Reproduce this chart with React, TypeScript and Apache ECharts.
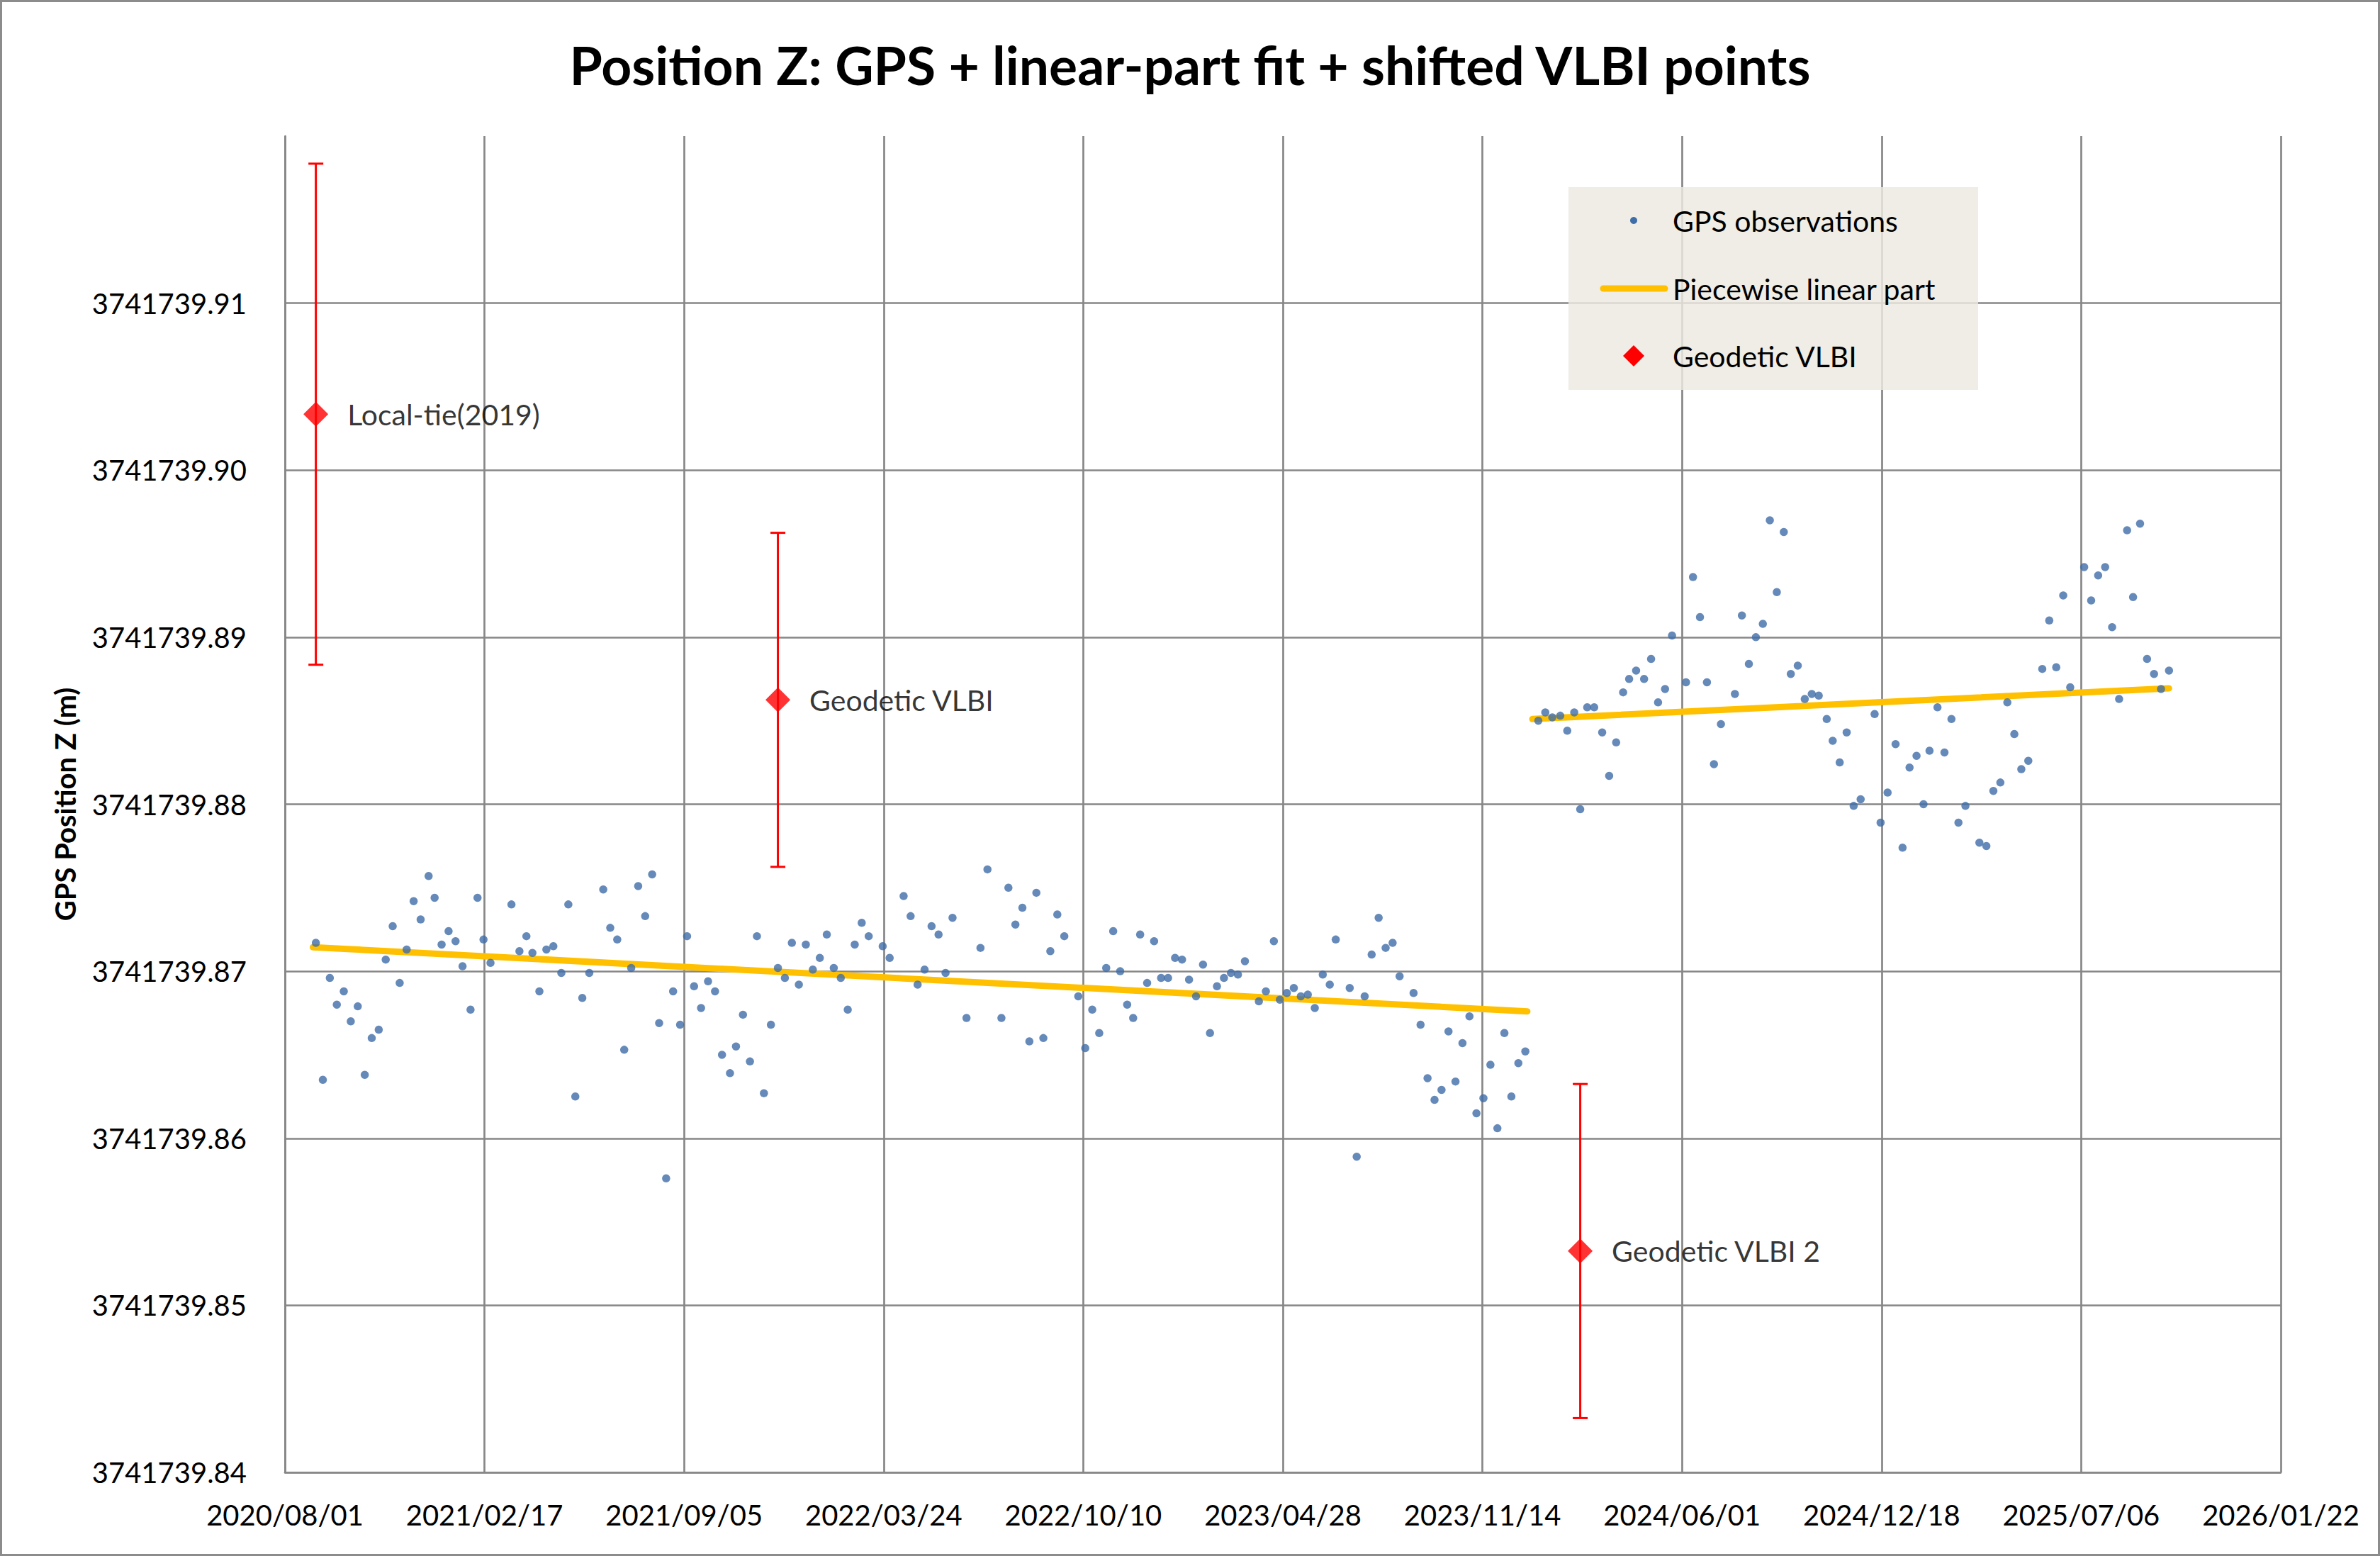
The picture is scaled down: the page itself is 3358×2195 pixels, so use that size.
import React, { useEffect, useRef } from "react";
import * as echarts from "echarts";

const TITLE = "Position Z: GPS + linear-part fit + shifted VLBI points";
const Y_NAME = "GPS Position Z (m)";
const BASE = 3741739.84; // axis minimum (m)
const START_UTC = Date.UTC(2020, 7, 1); // day 0 = 2020/08/01
const X_MAX_DAYS = 2000;
const X_STEP_DAYS = 200;
const Y_STEP_M = 0.01;
const Y_MAX_M = 3741739.92;

// GPS observations: days since 2020/08/01, Z position (m)
const gpsDays = [
  31, 38, 45, 52, 59, 66, 73, 80, 87, 94, 101, 108, 115, 122, 129, 136, 144, 150, 157, 164,
  171, 178, 186, 193, 199, 206, 227, 235, 242, 248, 255, 262, 269, 277, 284, 291, 298, 305, 319, 326,
  333, 340, 347, 354, 361, 368, 375, 382, 389, 396, 403, 410, 417, 424, 431, 438, 446, 452, 459, 466,
  473, 480, 487, 494, 501, 508, 515, 522, 529, 536, 543, 550, 557, 564, 571, 578, 585, 599, 606, 620,
  627, 634, 641, 648, 655, 662, 669, 683, 697, 704, 718, 725, 732, 739, 746, 753, 760, 767, 774, 781,
  795, 802, 809, 816, 823, 830, 837, 844, 850, 857, 864, 871, 878, 885, 892, 899, 906, 913, 920, 927,
  934, 941, 948, 955, 962, 976, 983, 991, 997, 1004, 1011, 1018, 1025, 1032, 1040, 1047, 1053, 1067, 1074, 1082,
  1089, 1096, 1103, 1110, 1117, 1131, 1138, 1145, 1152, 1159, 1166, 1173, 1180, 1187, 1194, 1201, 1208, 1215, 1222, 1229,
  1236, 1243,
  1256, 1263, 1270, 1278, 1285, 1292, 1298, 1305, 1312, 1320, 1327, 1334, 1341, 1347, 1354, 1362, 1369, 1376, 1383, 1390,
  1404, 1411, 1418, 1425, 1432, 1439, 1453, 1460, 1467, 1474, 1481, 1488, 1495, 1502, 1509, 1516, 1523, 1530, 1537, 1545,
  1551, 1558, 1565, 1572, 1579, 1593, 1599, 1606, 1614, 1621, 1628, 1635, 1642, 1648, 1656, 1663, 1670, 1677, 1684, 1698,
  1705, 1712, 1719, 1726, 1733, 1740, 1747, 1761, 1768, 1775, 1782, 1789, 1803, 1810, 1817, 1824, 1831, 1838, 1846, 1852,
  1859, 1866, 1873, 1880, 1888,
];

const gpsZ = [
  3741739.8717, 3741739.8635, 3741739.8696, 3741739.868, 3741739.8688, 3741739.867, 3741739.8679, 3741739.8638, 3741739.866, 3741739.8665,
  3741739.8707, 3741739.8727, 3741739.8693, 3741739.8713, 3741739.8742, 3741739.8731, 3741739.8757, 3741739.8744, 3741739.8716, 3741739.8724,
  3741739.8718, 3741739.8703, 3741739.8677, 3741739.8744, 3741739.8719, 3741739.8705, 3741739.874, 3741739.8712, 3741739.8721, 3741739.8711,
  3741739.8688, 3741739.8713, 3741739.8715, 3741739.8699, 3741739.874, 3741739.8625, 3741739.8684, 3741739.8699, 3741739.8749, 3741739.8726,
  3741739.8719, 3741739.8653, 3741739.8702, 3741739.8751, 3741739.8733, 3741739.8758, 3741739.8669, 3741739.8576, 3741739.8688, 3741739.8668,
  3741739.8721, 3741739.8691, 3741739.8678, 3741739.8694, 3741739.8688, 3741739.865, 3741739.8639, 3741739.8655, 3741739.8674, 3741739.8646,
  3741739.8721, 3741739.8627, 3741739.8668, 3741739.8702, 3741739.8696, 3741739.8717, 3741739.8692, 3741739.8716, 3741739.8701, 3741739.8708,
  3741739.8722, 3741739.8702, 3741739.8696, 3741739.8677, 3741739.8716, 3741739.8729, 3741739.8721, 3741739.8715, 3741739.8708, 3741739.8745,
  3741739.8733, 3741739.8692, 3741739.8701, 3741739.8727, 3741739.8722, 3741739.8699, 3741739.8732, 3741739.8672, 3741739.8714, 3741739.8761,
  3741739.8672, 3741739.875, 3741739.8728, 3741739.8738, 3741739.8658, 3741739.8747, 3741739.866, 3741739.8712, 3741739.8734, 3741739.8721,
  3741739.8685, 3741739.8654, 3741739.8677, 3741739.8663, 3741739.8702, 3741739.8724, 3741739.87, 3741739.868, 3741739.8672, 3741739.8722,
  3741739.8693, 3741739.8718, 3741739.8696, 3741739.8696, 3741739.8708, 3741739.8707, 3741739.8695, 3741739.8685, 3741739.8704, 3741739.8663,
  3741739.8691, 3741739.8696, 3741739.8699, 3741739.8698, 3741739.8706, 3741739.8682, 3741739.8688, 3741739.8718, 3741739.8683, 3741739.8687,
  3741739.869, 3741739.8685, 3741739.8686, 3741739.8678, 3741739.8698, 3741739.8692, 3741739.8719, 3741739.869, 3741739.8589, 3741739.8685,
  3741739.871, 3741739.8732, 3741739.8714, 3741739.8717, 3741739.8697, 3741739.8687, 3741739.8668, 3741739.8636, 3741739.8623, 3741739.8629,
  3741739.8664, 3741739.8634, 3741739.8657, 3741739.8673, 3741739.8615, 3741739.8624, 3741739.8644, 3741739.8606, 3741739.8663, 3741739.8625,
  3741739.8645, 3741739.8652,
  3741739.885, 3741739.8855, 3741739.8852, 3741739.8853, 3741739.8844, 3741739.8855, 3741739.8797, 3741739.8858, 3741739.8858, 3741739.8843,
  3741739.8817, 3741739.8837, 3741739.8867, 3741739.8875, 3741739.888, 3741739.8875, 3741739.8887, 3741739.8861, 3741739.8869, 3741739.8901,
  3741739.8873, 3741739.8936, 3741739.8912, 3741739.8873, 3741739.8824, 3741739.8848, 3741739.8866, 3741739.8913, 3741739.8884, 3741739.89,
  3741739.8908, 3741739.897, 3741739.8927, 3741739.8963, 3741739.8878, 3741739.8883, 3741739.8863, 3741739.8866, 3741739.8865, 3741739.8851,
  3741739.8838, 3741739.8825, 3741739.8843, 3741739.8799, 3741739.8803, 3741739.8854, 3741739.8789, 3741739.8807, 3741739.8836, 3741739.8774,
  3741739.8822, 3741739.8829, 3741739.88, 3741739.8832, 3741739.8858, 3741739.8831, 3741739.8851, 3741739.8789, 3741739.8799, 3741739.8777,
  3741739.8775, 3741739.8808, 3741739.8813, 3741739.8861, 3741739.8842, 3741739.8821, 3741739.8826, 3741739.8881, 3741739.891, 3741739.8882,
  3741739.8925, 3741739.887, 3741739.8942, 3741739.8922, 3741739.8937, 3741739.8942, 3741739.8906, 3741739.8863, 3741739.8964, 3741739.8924,
  3741739.8968, 3741739.8887, 3741739.8878, 3741739.8869, 3741739.888,
];

// Piecewise linear part: two segments [startDay, endDay], [startZ, endZ]
const fit1Days = [28, 1245];
const fit1Z = [3741739.87144, 3741739.8676];
const fit2Days = [1250, 1888];
const fit2Z = [3741739.8851, 3741739.88694];

// Shifted VLBI points with error bars
const vlbiNames = ["Local-tie(2019)", "Geodetic VLBI", "Geodetic VLBI 2"];
const vlbiDays = [31, 494, 1298];
const vlbiZ = [3741739.90335, 3741739.88625, 3741739.85325];
const vlbiErr = [0.015, 0.01, 0.01];

const LEGEND_LABELS = ["GPS observations", "Piecewise linear part", "Geodetic VLBI"];

const FONT = "Lato, 'Open Sans', 'DejaVu Sans', sans-serif";
const GRID_COLOR = "#878787";
const DOT_COLOR = "#3E6DA8";
const FIT_COLOR = "#FFC000";
const VLBI_COLOR = "#FF0000";

const toMm = (z: number) => Math.round((z - BASE) * 1e5) / 100;

function fmtDay(d: number): string {
  const dt = new Date(START_UTC + Math.round(d) * 86400000);
  const y = dt.getUTCFullYear();
  const m = String(dt.getUTCMonth() + 1).padStart(2, "0");
  const dd = String(dt.getUTCDate()).padStart(2, "0");
  return `${y}/${m}/${dd}`;
}

export default function App() {
  const ref = useRef<HTMLDivElement | null>(null);

  useEffect(() => {
    document.body.style.margin = "0";
    if (!ref.current) return;
    const chart = echarts.init(ref.current, undefined, { renderer: "svg" });

    const gpsData = gpsDays.map((d, i) => [d, toMm(gpsZ[i])]);
    const fit1 = fit1Days.map((d, i) => [d, toMm(fit1Z[i])]);
    const fit2 = fit2Days.map((d, i) => [d, toMm(fit2Z[i])]);
    const vlbiPts = vlbiDays.map((d, i) => ({ name: vlbiNames[i], value: [d, toMm(vlbiZ[i])] }));
    const errData = vlbiDays.map((d, i) => [d, toMm(vlbiZ[i]), vlbiErr[i] * 1000]);
    const yMax = toMm(Y_MAX_M);
    const yStep = Y_STEP_M * 1000;

    const lx = 2213, ly = 264, lw = 578, lh = 286;
    const rowY = [311, 407, 502];
    const iconX = 2305;
    const textX = 2360;

    const option: any = {
      animation: false,
      backgroundColor: "#ffffff",
      title: {
        text: TITLE,
        left: "center",
        top: 48,
        textStyle: { fontFamily: FONT, fontWeight: "bold", fontSize: 75, color: "#000000" },
      },
      grid: { left: 402, right: 140, top: 192, bottom: 118, containLabel: false },
      xAxis: {
        type: "value",
        min: 0,
        max: X_MAX_DAYS,
        interval: X_STEP_DAYS,
        axisLine: { show: true, lineStyle: { color: GRID_COLOR, width: 2.7 } },
        axisTick: { show: false },
        splitLine: { show: true, lineStyle: { color: GRID_COLOR, width: 2.7 } },
        axisLabel: {
          formatter: (v: number) => fmtDay(v),
          margin: 40,
          fontSize: 40,
          fontFamily: FONT,
          color: "#000000",
          showMinLabel: true,
          showMaxLabel: true,
        },
      },
      yAxis: {
        type: "value",
        min: 0,
        max: yMax,
        interval: yStep,
        name: Y_NAME,
        nameLocation: "middle",
        nameGap: 290,
        nameTextStyle: { fontFamily: FONT, fontWeight: "bold", fontSize: 40, color: "#000000" },
        axisLine: { show: true, lineStyle: { color: GRID_COLOR, width: 2.7 } },
        axisTick: { show: false },
        splitLine: { show: true, showMaxLine: false, lineStyle: { color: GRID_COLOR, width: 2.7 } },
        axisLabel: {
          formatter: (v: number) => (BASE + v / 1000).toFixed(2),
          margin: 54,
          fontSize: 40,
          fontFamily: FONT,
          color: "#000000",
          showMaxLabel: false,
        },
      },
      graphic: [
        {
          type: "rect",
          z: 100,
          shape: { x: 1.5, y: 1.5, width: 3355, height: 2192 },
          style: { fill: "none", stroke: "#8C8C8C", lineWidth: 3 },
        },
        {
          type: "rect",
          z: 100,
          shape: { x: lx, y: ly, width: lw, height: lh },
          style: { fill: "rgba(236,233,224,0.82)" },
        },
        {
          type: "circle",
          z: 101,
          shape: { cx: iconX, cy: rowY[0], r: 5 },
          style: { fill: DOT_COLOR },
        },
        {
          type: "line",
          z: 101,
          shape: { x1: 2262, y1: rowY[1], x2: 2349, y2: rowY[1] },
          style: { stroke: FIT_COLOR, lineWidth: 9, lineCap: "round" },
        },
        {
          type: "polygon",
          z: 101,
          shape: {
            points: [
              [iconX, rowY[2] - 15],
              [iconX + 15, rowY[2]],
              [iconX, rowY[2] + 15],
              [iconX - 15, rowY[2]],
            ],
          },
          style: { fill: VLBI_COLOR },
        },
        ...LEGEND_LABELS.map((t, i) => ({
          type: "text",
          z: 101,
          x: textX,
          y: rowY[i],
          style: {
            text: t,
            fill: "#000000",
            font: `41px ${FONT}`,
            verticalAlign: "middle",
            align: "left",
          },
        })),
      ],
      series: [
        {
          name: "Piecewise linear part",
          type: "line",
          data: fit1,
          z: 2,
          symbol: "none",
          lineStyle: { color: FIT_COLOR, width: 9, cap: "round" },
        },
        {
          name: "Piecewise linear part",
          type: "line",
          data: fit2,
          z: 2,
          symbol: "none",
          lineStyle: { color: FIT_COLOR, width: 9, cap: "round" },
        },
        {
          name: "GPS observations",
          type: "scatter",
          data: gpsData,
          z: 3,
          symbol: "circle",
          symbolSize: 11.5,
          itemStyle: { color: DOT_COLOR },
        },
        {
          name: "VLBI error",
          type: "custom",
          data: errData,
          z: 4,
          clip: false,
          renderItem: (params: any, api: any) => {
            const x = api.value(0);
            const y = api.value(1);
            const e = api.value(2);
            const top = api.coord([x, y + e]);
            const bot = api.coord([x, y - e]);
            const half = 10.5;
            const st = { stroke: VLBI_COLOR, lineWidth: 3 };
            return {
              type: "group",
              children: [
                { type: "line", shape: { x1: top[0], y1: top[1], x2: bot[0], y2: bot[1] }, style: st },
                { type: "line", shape: { x1: top[0] - half, y1: top[1], x2: top[0] + half, y2: top[1] }, style: st },
                { type: "line", shape: { x1: bot[0] - half, y1: bot[1], x2: bot[0] + half, y2: bot[1] }, style: st },
              ],
            };
          },
        },
        {
          name: "Geodetic VLBI",
          type: "scatter",
          data: vlbiPts,
          z: 5,
          symbol: "diamond",
          symbolSize: 35,
          itemStyle: { color: VLBI_COLOR },
          label: {
            show: true,
            position: "right",
            distance: 27,
            formatter: (p: any) => p.name,
            fontFamily: FONT,
            fontSize: 41,
            color: "#000000",
          },
        },
      ],
    };

    chart.setOption(option);
    return () => chart.dispose();
  }, []);

  return <div ref={ref} style={{ width: 3358, height: 2195 }} />;
}
